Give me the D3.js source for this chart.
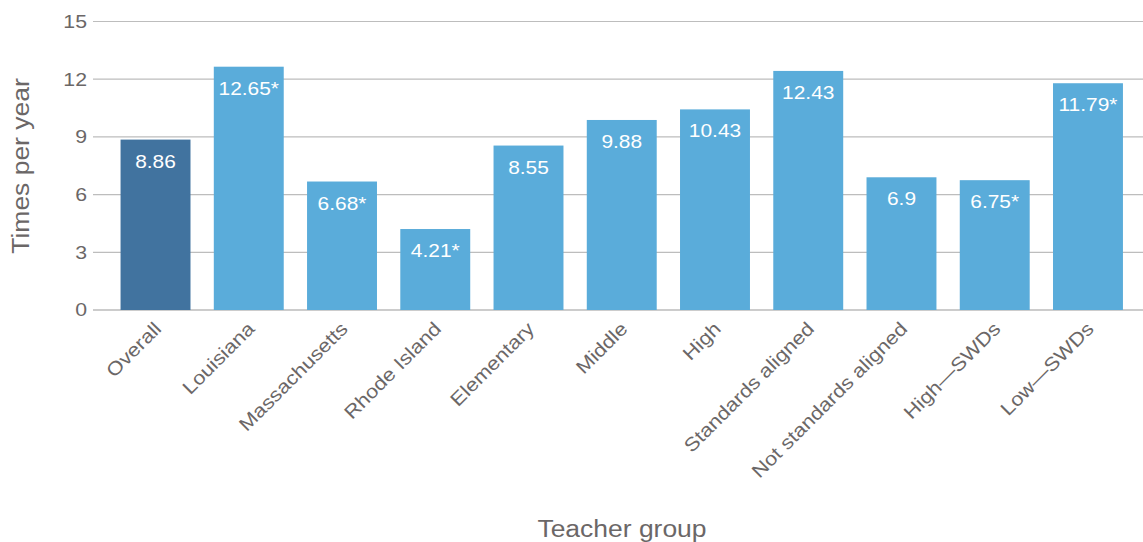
<!DOCTYPE html>
<html><head><meta charset="utf-8">
<script src="https://cdn.jsdelivr.net/npm/d3@7"></script>
<style>body{margin:0;background:#fff;} text{font-family:"Liberation Sans",Arial,sans-serif;}</style>
</head><body>
<svg id="c" width="1143" height="542"></svg>
<script>
const categories = ["Overall","Louisiana","Massachusetts","Rhode Island","Elementary","Middle","High","Standards aligned","Not standards aligned","High\u2014SWDs","Low\u2014SWDs"];
const values = [8.86,12.65,6.68,4.21,8.55,9.88,10.43,12.43,6.9,6.75,11.79];
const valueLabels = ["8.86","12.65*","6.68*","4.21*","8.55","9.88","10.43","12.43","6.9","6.75*","11.79*"];
const yTicks = [0,3,6,9,12,15];

const svg = d3.select("#c");
const x = d3.scaleBand().domain(categories).range([108.9,1134.6]).paddingInner(0.25).paddingOuter(0.125);
const y = d3.scaleLinear().domain([0,15]).range([310,21.5]);

function stretch(sel, k){
  sel.each(function(){
    const len = this.getComputedTextLength();
    d3.select(this).attr("textLength", len*k).attr("lengthAdjust","spacingAndGlyphs");
  });
}

// gridlines
svg.append("g").selectAll("line").data(yTicks).join("line")
  .attr("x1",93).attr("x2",1143)
  .attr("y1",d=>y(d)).attr("y2",d=>y(d))
  .attr("stroke",d=>d===0?"#cccccc":"#bdbdbd").attr("stroke-width",d=>d===0?2:1.2);

const yAxis = svg.append("g").attr("transform","translate(93,0)")
  .call(d3.axisLeft(y).tickValues(yTicks).tickSize(0).tickPadding(6));
yAxis.select(".domain").remove();
yAxis.selectAll("text").attr("font-size",18.5).attr("fill","#6b6767").attr("font-family","Liberation Sans, Arial, sans-serif");
stretch(yAxis.selectAll("text"),1.15);

svg.append("g").selectAll("rect").data(values).join("rect")
  .attr("x",(d,i)=>x(categories[i])).attr("width",x.bandwidth())
  .attr("y",d=>y(d)).attr("height",d=>y(0)-y(d))
  .attr("fill",(d,i)=>i===0?"#41739f":"#5aacda");

const vl = svg.append("g").selectAll("text").data(values).join("text")
  .attr("x",(d,i)=>x(categories[i])+x.bandwidth()/2)
  .attr("y",d=>y(d)+28)
  .attr("text-anchor","middle").attr("fill","#fff").attr("font-size",19)
  .text((d,i)=>valueLabels[i]);
stretch(vl,1.1);

const xAxis = svg.append("g").attr("transform","translate(0,310)")
  .call(d3.axisBottom(x).tickSize(0).tickPadding(0));
xAxis.select(".domain").remove();
xAxis.selectAll("text")
  .attr("font-size",19).attr("fill","#6b6767").attr("font-family","Liberation Sans, Arial, sans-serif")
  .attr("text-anchor","end").attr("dy",null).attr("y",0).attr("x",0)
  .attr("transform","translate(7,20) rotate(-45)");
stretch(xAxis.selectAll("text"),1.14);

const yt = svg.append("text").attr("transform","translate(29,166) rotate(-90)")
  .attr("text-anchor","middle").attr("font-size",23).attr("fill","#6b6767").text("Times per year");
stretch(yt,1.15);
const xt = svg.append("text").attr("x",622).attr("y",537)
  .attr("text-anchor","middle").attr("font-size",23).attr("fill","#6b6767").text("Teacher group");
stretch(xt,1.15);
</script>
</body></html>
